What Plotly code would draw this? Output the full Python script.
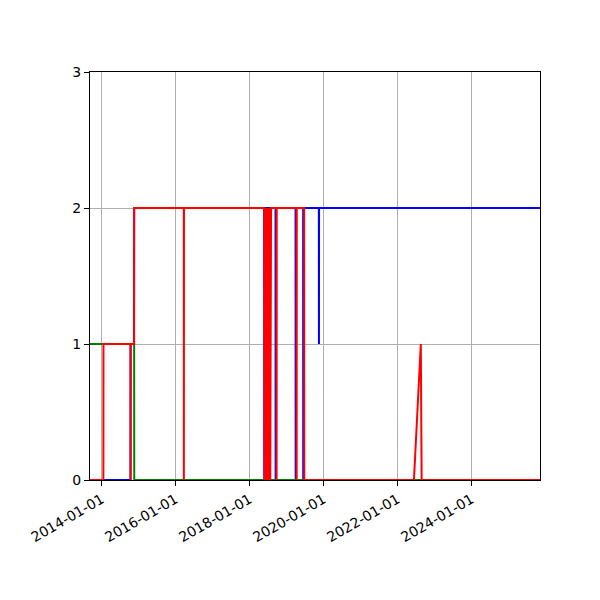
import plotly.graph_objects as go

# three state series (value 0/1/2 over time)
blue_dates = ["2013-09-08", "2014-10-13", "2014-10-14", "2014-11-17", "2014-11-18",
              "2018-05-25", "2018-05-26", "2018-05-27", "2018-09-14", "2018-09-15",
              "2018-09-16", "2019-03-31", "2019-04-01", "2019-04-02", "2019-06-14",
              "2019-06-15", "2019-06-16", "2019-11-16", "2019-11-17", "2019-11-18",
              "2025-11-08"]
blue_vals = [0, 0, 1, 1, 2,
             2, 0, 2, 2, 0,
             2, 2, 0, 2, 2,
             0, 2, 2, 1, 2,
             2]

green_dates = ["2013-09-08", "2014-11-18", "2014-11-19", "2025-11-08"]
green_vals = [1, 1, 0, 0]

red_dates = ["2013-09-08", "2014-01-18", "2014-01-19", "2014-10-13", "2014-10-14",
             "2014-10-15", "2014-11-17", "2014-11-18", "2016-03-22", "2016-03-23",
             "2016-03-24", "2018-05-27",
             "2018-05-29", "2018-06-02", "2018-06-06", "2018-06-10", "2018-06-14",
             "2018-06-18", "2018-06-22", "2018-06-26", "2018-06-30", "2018-07-04",
             "2018-07-08", "2018-07-12", "2018-07-16", "2018-07-20", "2018-07-24",
             "2018-07-28", "2018-07-31", "2018-08-01",
             "2018-09-24", "2018-09-25", "2018-09-26", "2019-04-10", "2019-04-11",
             "2019-04-12", "2019-06-24", "2019-06-25", "2022-06-12", "2022-08-19",
             "2022-08-27", "2025-11-08"]
red_vals = [0, 0, 1, 1, 0,
            1, 1, 2, 2, 0,
            2, 2,
            0, 2, 0, 2, 0,
            2, 0, 2, 0, 2,
            0, 2, 0, 2, 0,
            2, 0, 2,
            2, 0, 2, 2, 0,
            2, 2, 0, 0, 1,
            0, 0]

tick_dates = ["2014-01-01", "2016-01-01", "2018-01-01", "2020-01-01", "2022-01-01", "2024-01-01"]

fig = go.Figure()
fig.add_trace(go.Scatter(x=blue_dates, y=blue_vals, mode="lines", line=dict(color="#0000ff", width=2)))
fig.add_trace(go.Scatter(x=green_dates, y=green_vals, mode="lines", line=dict(color="#008000", width=2)))
fig.add_trace(go.Scatter(x=red_dates, y=red_vals, mode="lines", line=dict(color="#ff0000", width=2)))

fig.update_layout(
    width=600,
    height=600,
    margin=dict(l=82, r=68, t=64, b=128),
    paper_bgcolor="white",
    plot_bgcolor="white",
    showlegend=False,
    font=dict(family="DejaVu Sans", size=14, color="black"),
    xaxis=dict(
        type="date",
        range=["2013-09-08", "2025-11-08"],
        tickvals=tick_dates,
        tickformat="%Y-%m-%d",
        tickangle=-30,
        showgrid=True,
        gridcolor="#b0b0b0",
        gridwidth=1,
        showline=True,
        mirror=True,
        linecolor="black",
        linewidth=1,
        ticks="outside",
        ticklen=5,
        tickcolor="black",
        zeroline=False,
    ),
    yaxis=dict(
        range=[0, 3],
        tickvals=[0, 1, 2, 3],
        showgrid=True,
        gridcolor="#b0b0b0",
        gridwidth=1,
        showline=True,
        mirror=True,
        linecolor="black",
        linewidth=1,
        ticks="outside",
        ticklen=5,
        tickcolor="black",
        zeroline=False,
    ),
)

fig.write_html("out.html")
